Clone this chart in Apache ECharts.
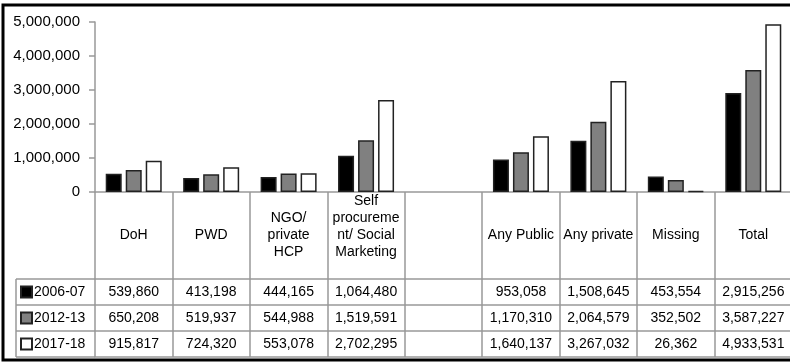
<!DOCTYPE html>
<html>
<head>
<meta charset="utf-8">
<script src="https://cdn.jsdelivr.net/npm/echarts@6/dist/echarts.min.js"></script>
<style>
  html, body { margin: 0; padding: 0; background: #fff; }
  #chart { width: 790px; height: 363px; }
</style>
</head>
<body>
<div id="chart"></div>
<script>
// categories (blank column is kept as in the source table)
var categories = ['DoH', 'PWD', 'NGO/\nprivate\nHCP', 'Self\nprocureme\nnt/ Social\nMarketing', '', 'Any Public', 'Any private', 'Missing', 'Total'];
var years = ['2006-07', '2012-13', '2017-18'];
var v2006 = [539860, 413198, 444165, 1064480, null, 953058, 1508645, 453554, 2915256];
var v2012 = [650208, 519937, 544988, 1519591, null, 1170310, 2064579, 352502, 3587227];
var v2017 = [915817, 724320, 553078, 2702295, null, 1640137, 3267032, 26362, 4933531];
var yTicks = [0, 1000000, 2000000, 3000000, 4000000, 5000000];

var fills = ['#000000', '#808080', '#ffffff'];
var font = 'Liberation Sans, Arial, sans-serif';
var lineColor = '#999';

// layout
var plotTop = 22, axisY = 192, rowH = 26, headerH = 87;
var rowTop = axisY + headerH; // 279
var tableBottom = rowTop + rowH * 3;
var legendLeft = 16, gridLeft = 95;

function fmt(v) {
  return v == null ? '' : v.toLocaleString('en-US');
}

var values = [v2006, v2012, v2017];

var xAxes = [{
  type: 'category',
  data: categories,
  gridIndex: 0,
  position: 'bottom',
  axisLine: { lineStyle: { color: lineColor, width: 1.5 } },
  axisTick: { show: true, interval: 0, length: tableBottom - axisY, lineStyle: { color: lineColor, width: 1.5 } },
  axisLabel: {
    interval: 0, margin: headerH / 2, verticalAlign: 'middle', lineHeight: 17,
    color: '#000', fontSize: 14, fontFamily: font,
    formatter: function (v) {
      // overflowing 4-line label sits higher in the cell
      return v.split('\n').length > 3 ? v + '\n' : v;
    }
  }
}];
values.forEach(function (arr, k) {
  xAxes.push({
    type: 'category',
    data: categories,
    position: 'bottom',
    offset: headerH + rowH * k,
    axisLine: { show: true, lineStyle: { color: lineColor, width: 1.5 } },
    axisTick: { show: false },
    axisLabel: {
      interval: 0, margin: rowH / 2, verticalAlign: 'middle',
      color: '#000', fontSize: 14, fontFamily: font,
      formatter: function (v, i) { return fmt(arr[i]); }
    }
  });
});
xAxes.push({
  type: 'category',
  data: categories,
  position: 'bottom',
  offset: headerH + rowH * 3,
  axisLine: { show: true, lineStyle: { color: lineColor, width: 1.5 } },
  axisTick: { show: false },
  axisLabel: { show: false }
});

var series = years.map(function (y, k) {
  return {
    name: y,
    type: 'bar',
    xAxisIndex: 0,
    barWidth: 16,
    barGap: '25%',
    data: values[k],
    itemStyle: { color: fills[k], borderColor: '#222', borderWidth: 1.5 }
  };
});

var graphic = [
  // outer frame
  { type: 'rect', shape: { x: 3, y: 5, width: 800, height: 355 }, style: { fill: 'none', stroke: '#000', lineWidth: 3 }, z: 100 },
  // legend column box
  { type: 'line', shape: { x1: legendLeft, y1: rowTop, x2: legendLeft, y2: tableBottom }, style: { stroke: lineColor, lineWidth: 1.5 } }
];
for (var r = 0; r <= 3; r++) {
  graphic.push({ type: 'line', shape: { x1: legendLeft, y1: rowTop + rowH * r, x2: gridLeft, y2: rowTop + rowH * r }, style: { stroke: lineColor, lineWidth: 1.5 } });
}

var chart = echarts.init(document.getElementById('chart'));
chart.setOption({
  animation: false,
  grid: { left: gridLeft, top: plotTop, right: -2, bottom: 363 - axisY, outerBoundsMode: 'none', containLabel: false },
  legend: {
    orient: 'vertical', left: 20, top: rowTop + 4, padding: 0, height: rowH * 3,
    itemGap: rowH - 18, itemWidth: 11, itemHeight: 11, icon: 'rect', selectedMode: false,
    textStyle: { color: '#000', fontSize: 14, fontFamily: font, lineHeight: 18, padding: [0, 0, 0, -3] },
    data: years
  },
  xAxis: xAxes,
  yAxis: {
    type: 'value', min: yTicks[0], max: yTicks[yTicks.length - 1], interval: yTicks[1] - yTicks[0],
    axisLine: { show: true, lineStyle: { color: lineColor, width: 1.5 } },
    axisTick: { show: true, length: 6, lineStyle: { color: lineColor, width: 1.5 } },
    splitLine: { show: false },
    axisLabel: { color: '#000', fontSize: 15, fontFamily: font, margin: 15, formatter: fmt }
  },
  series: series,
  graphic: graphic
});
</script>
</body>
</html>
